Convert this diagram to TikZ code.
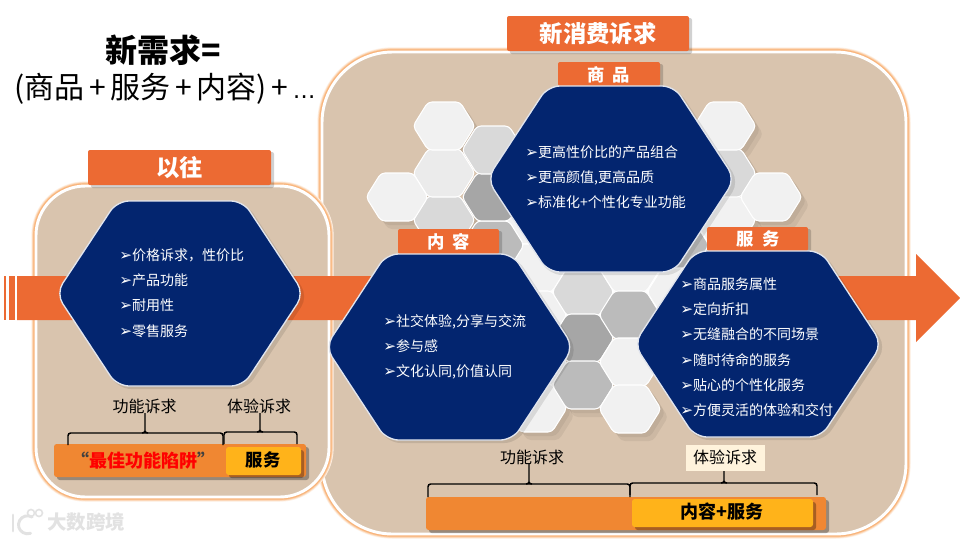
\documentclass[tikz,border=0pt]{standalone}
\usepackage{fontspec}
\setmainfont{Noto Sans CJK SC}
\newfontfamily\bulletfont{DejaVu Sans}
\definecolor{navy}{HTML}{03256F}
\definecolor{panel}{HTML}{D9C4AE}
\definecolor{tabor}{HTML}{EC6A33}
\definecolor{baror}{HTML}{F08732}
\definecolor{baryel}{HTML}{FFB31A}
\definecolor{glowa}{HTML}{FEF0E4}
\definecolor{glowb}{HTML}{FDDFC6}
\definecolor{glowc}{HTML}{FBCB9F}
\definecolor{glowd}{HTML}{F8B47C}
\definecolor{cream}{HTML}{FFF3DC}
\definecolor{hA}{HTML}{F1F1F1}
\definecolor{hB}{HTML}{D9D9D9}
\definecolor{hC}{HTML}{A6A6A6}
\definecolor{hD}{HTML}{BBBBBB}
\definecolor{hE}{HTML}{EBEBEB}
\definecolor{markc}{HTML}{E2E2E2}
\newcommand{\blt}{{\bulletfont\fontsize{11.5}{19}\selectfont ➢}}
\newcommand{\plusgap}{\kern3.5pt+\kern3.5pt}
% centre x, centre y, half width, half height, inset
\newcommand{\hexpath}[5]{({#1-#3},{#2})--({#1-#3+#5},{#2-#4})--({#1+#3-#5},{#2-#4})--({#1+#3},{#2})--({#1+#3-#5},{#2+#4})--({#1-#3+#5},{#2+#4})--cycle}
\newcommand{\hexshadow}[2]{%
  \fill[black,opacity=.06,rounded corners=3pt] \hexpath{(#1+7)}{(#2+8)}{31}{24}{15};
  \fill[black,opacity=.06,rounded corners=3pt] \hexpath{(#1+4)}{(#2+4)}{31}{24}{15};}
\newcommand{\smallhex}[3]{%
  \filldraw[draw=white,line width=.8pt,fill=#3,rounded corners=3pt] \hexpath{#1}{#2}{31}{24}{15};}
\newcommand{\bighex}[3]{%
  \fill[black,opacity=.10,rounded corners=9pt] \hexpath{(#1+3)}{(#2+3)}{125}{#3}{61};
  \filldraw[draw=white!88!navy,line width=1pt,fill=navy,rounded corners=9pt] \hexpath{#1}{#2}{124}{#3}{61};}
\newcommand{\glowpanel}[5]{%
  \draw[glowa,line width=7pt,rounded corners=#5] (#1,#2) rectangle (#3,#4);
  \draw[glowb,line width=6pt,rounded corners=#5] (#1,#2) rectangle (#3,#4);
  \draw[glowc,line width=5pt,rounded corners=#5] (#1,#2) rectangle (#3,#4);
  \draw[glowd,line width=4pt,rounded corners=#5] (#1,#2) rectangle (#3,#4);
  \filldraw[draw=white,line width=2.2pt,fill=panel,rounded corners=#5] (#1,#2) rectangle (#3,#4);}
\newcommand{\tabbox}[4]{%
  \fill[black,opacity=.18,rounded corners=1.5pt] ({#1+3},{#2+2}) rectangle ({#3+3},{#4+3});
  \fill[tabor,rounded corners=1.5pt] (#1,#2) rectangle (#3,#4);}
\newcommand{\barbox}[5]{%
  \fill[black,opacity=.3,rounded corners=2pt] ({#1+3},{#2+3}) rectangle ({#3+3},{#4+3});
  \fill[#5,rounded corners=2pt] (#1,#2) rectangle (#3,#4);}
\newcommand{\bracepath}[6]{%
  \draw[bracel,rounded corners=2pt] (#1,#5)--(#1,#4)--(#2,#4)--(#2,#5);
  \draw[bracel] (#3,#6)--(#3,{#4-2}) to[out=-90,in=0] ({#3-3},#4);
  \draw[bracel] (#3,{#4-2}) to[out=-90,in=180] ({#3+3},#4);}
\tikzset{
  x=.75pt,y=-.75pt,
  bracel/.style={black,line width=1.1pt},
  listtext/.style={white,anchor=north west,align=left,inner sep=0pt,font=\fontsize{10.5}{19}\selectfont},
  tabtext/.style={white,font=\bfseries\fontsize{17.5}{20}\selectfont,inner sep=0pt},
  subtab/.style={white,font=\bfseries\fontsize{13}{15}\selectfont,inner sep=0pt},
  bracelabel/.style={black,font=\fontsize{12}{14}\selectfont,inner sep=0pt},
}
\begin{document}
\begin{tikzpicture}
\useasboundingbox (0,0) rectangle (960,540);
\fill[white] (0,0) rectangle (960,540);
% panels
\glowpanel{322}{52}{906}{534}{53pt}
\glowpanel{36}{186}{329}{497}{37pt}
% arrow
\fill[tabor] (4,276) rectangle (6,320);
\fill[tabor] (9,276) rectangle (15,320);
\fill[tabor] (17,276)--(916,276)--(916,254)--(960,298)--(916,342)--(916,320)--(17,320)--cycle;
% small hexagon shadows
\hexshadow{444}{126}\hexshadow{397}{197}\hexshadow{444}{220}\hexshadow{493}{245}
\hexshadow{725}{126}\hexshadow{725}{173}\hexshadow{771}{197}\hexshadow{725}{220}
\hexshadow{536}{408}\hexshadow{583}{385}\hexshadow{630}{409}
% backing that closes the gaps of the cluster
\fill[white] (540,250) rectangle (700,335);
% small hexagons
\smallhex{536}{220}{hA}
\smallhex{536}{268}{hA}
\smallhex{536}{315}{hA}
\smallhex{536}{362}{hA}
\smallhex{536}{408}{hA}
\smallhex{583}{245}{hE}
\smallhex{583}{292}{hB}
\smallhex{583}{338}{hC}
\smallhex{583}{385}{hD}
\smallhex{630}{268}{hA}
\smallhex{630}{315}{hD}
\smallhex{630}{362}{hA}
\smallhex{630}{409}{hA}
\smallhex{678}{245}{hD}
\smallhex{678}{292}{hA}
\smallhex{725}{220}{hA}
\smallhex{725}{173}{hB}
\smallhex{725}{126}{hA}
\smallhex{771}{197}{hA}
\smallhex{493}{245}{hD}
\smallhex{444}{220}{hB}
\smallhex{493}{197}{hC}
\smallhex{493}{150}{hB}
\smallhex{444}{173}{hE}
\smallhex{444}{126}{hA}
\smallhex{397}{197}{hA}
% tabs
\tabbox{88}{150}{271}{185}
\node[tabtext] (tabOld) at (179.5,167.5) {以往};
\tabbox{507}{16}{689}{51}
\node[tabtext] (tabNew) at (598,34) {新消费诉求};
\tabbox{558}{62}{660}{86}
\node[subtab] (tabGoods) at (609,75) {商\kern6pt 品};
\bighex{611}{179}{93}
\tabbox{398}{229}{499}{254}
\node[subtab] (tabContent) at (449,241.5) {内\kern6pt 容};
\tabbox{707}{227}{808}{251}
\node[subtab] (tabService) at (758,238.5) {服\kern6pt 务};
% large hexagons
\bighex{180}{293.5}{92.5}
\bighex{449.5}{347}{93}
\bighex{758}{344}{93}
% lists
\node[listtext] (listOld) at (119,248) {\blt 价格诉求，性价比\\\blt 产品功能\\\blt 耐用性\\\blt 零售服务};
\node[listtext] (listGoods) at (525,145) {\blt 更高性价比的产品组合\\\blt 更高颜值,更高品质\\\blt 标准化+个性化专业功能};
\node[listtext] (listContent) at (383,314) {\blt 社交体验,分享与交流\\\blt 参与感\\\blt 文化认同,价值认同};
\node[listtext] (listService) at (680,277) {\blt 商品服务属性\\\blt 定向折扣\\\blt 无缝融合的不同场景\\\blt 随时待命的服务\\\blt 贴心的个性化服务\\\blt 方便灵活的体验和交付};
% title
\node[inner sep=0pt,font=\bfseries\fontsize{24}{28}\selectfont] (titleA) at (163,50) {新需求=};
\node[inner sep=0pt,font=\fontsize{22.5}{26}\selectfont] (titleB) at (165,89) {(商品\plusgap 服务\plusgap 内容)\plusgap{\bulletfont\fontsize{17}{26}\selectfont …}};
% left bottom bars
\barbox{54}{444}{306}{477}{baror}
\barbox{226}{447}{301}{475}{baryel}
\node[inner sep=0pt,font=\bfseries\fontsize{13.5}{16}\selectfont] (trap) at (143,461) {\textcolor{black!75}{“}\textcolor{red}{最佳功能陷阱}\textcolor{black!75}{”}};
\node[inner sep=0pt,font=\bfseries\fontsize{13}{16}\selectfont] (svc) at (263,460) {服务};
\node[bracelabel] (lblFuncL) at (144.5,406) {功能诉求};
\node[bracelabel] (lblExpL) at (259,406) {体验诉求};
\bracepath{68}{223}{145}{433}{445}{413}
\bracepath{224}{297}{260}{432}{444}{413}
% right bottom bars
\barbox{426}{497}{826}{530}{baror}
\barbox{632}{499}{813}{527}{baryel}
\node[inner sep=0pt,font=\bfseries\fontsize{13.5}{16}\selectfont] (cs) at (722,512) {内容+服务};
\node[bracelabel] (lblFuncR) at (532,457) {功能诉求};
\fill[cream] (686,445) rectangle (765,471);
\node[bracelabel] (lblExpR) at (725,457.5) {体验诉求};
\bracepath{428}{630}{529}{484}{497}{464}
\bracepath{630}{817}{724}{483}{495}{471}
% watermark
\draw[markc,line width=2.2pt,line cap=round] (13,515)--(13,531);
\draw[markc,line width=2.2pt,line cap=round] (32,517) arc[start angle=-60,end angle=-290,radius=9];
\draw[markc,line width=1.2pt] (31,513) circle[radius=3.5];
\draw[markc,line width=1.2pt] (39,513) circle[radius=3.5];
\node[inner sep=0pt,text=markc,font=\bfseries\fontsize{14.6}{16}\selectfont] (mark) at (86,522) {大数跨境};
\end{tikzpicture}
\end{document}
